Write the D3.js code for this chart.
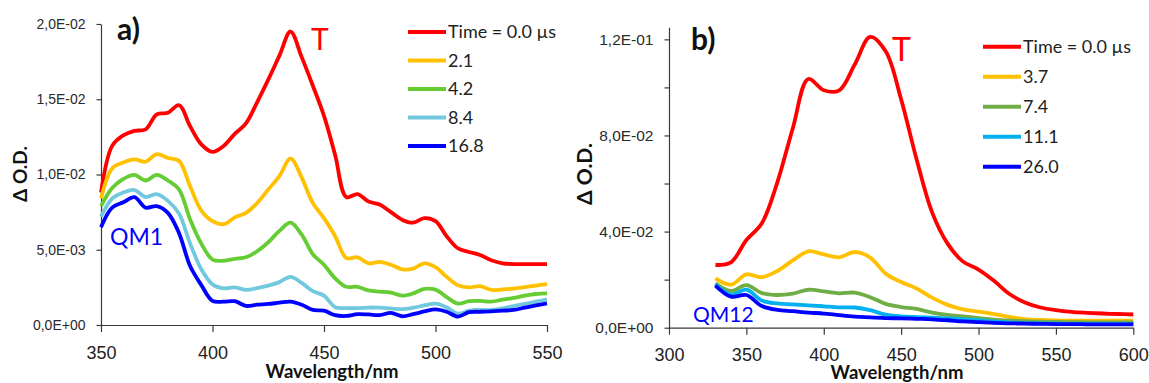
<!DOCTYPE html>
<html>
<head>
<meta charset="utf-8">
<script src="https://cdn.jsdelivr.net/npm/d3@7"></script>
<style>
  body { margin: 0; background: #fff; }
  svg { display: block; font-family: Lato, "Liberation Sans", sans-serif; }
</style>
</head>
<body>
<svg id="chart" width="1149" height="383"></svg>
<script>
// values are Δ O.D. in units of 1e-3

// ---- panel a
const wlA = [350, 355, 360, 365, 370, 375, 380, 385, 390, 395, 400, 405, 410, 415, 420, 425, 430, 435, 440, 445,
  450, 455, 460, 465, 470, 475, 480, 485, 490, 495, 500, 505, 510, 515, 520, 525, 530, 535, 540, 545, 550];
const t0A = [8.8, 11.9, 12.6, 12.9, 13.0, 14.0, 14.1, 14.6, 13.2, 12.0, 11.5, 11.9, 12.7, 13.4, 14.8, 16.3, 17.9, 19.5, 17.8, 15.9,
  13.9, 11.3, 8.5, 8.7, 8.2, 8.0, 7.5, 7.0, 6.8, 7.1, 6.9, 5.9, 5.1, 4.85, 4.65, 4.3, 4.1, 4.05, 4.05, 4.05, 4.05];
const t21A = [8.4, 10.4, 10.8, 11.0, 10.85, 11.35, 11.1, 10.9, 9.2, 7.6, 6.9, 6.7, 7.15, 7.45, 8.1, 9.0, 9.9, 11.05, 9.8, 8.1,
  7.1, 5.9, 4.45, 4.5, 4.1, 4.2, 4.0, 3.7, 3.75, 4.1, 3.85, 3.2, 2.65, 2.5, 2.58, 2.33, 2.36, 2.42, 2.52, 2.62, 2.72];
const t42A = [7.9, 9.1, 9.7, 9.97, 9.6, 9.97, 9.6, 9.0, 7.0, 5.4, 4.35, 4.27, 4.4, 4.5, 4.9, 5.5, 6.25, 6.8, 6.0, 4.7,
  4.0, 3.1, 2.54, 2.54, 2.3, 2.22, 2.15, 1.95, 2.1, 2.4, 2.35, 1.85, 1.42, 1.58, 1.6, 1.55, 1.68, 1.8, 1.95, 2.06, 2.1];
const t84A = [7.2, 8.4, 8.8, 8.97, 8.5, 8.7, 8.25, 7.4, 5.4, 3.7, 2.7, 2.44, 2.5, 2.33, 2.45, 2.62, 2.85, 3.2, 2.8, 2.25,
  1.95, 1.18, 1.12, 1.12, 1.16, 1.15, 1.1, 1.05, 1.15, 1.3, 1.42, 1.18, 0.75, 0.95, 1.0, 1.0, 1.1, 1.25, 1.4, 1.55, 1.7];
const t168A = [6.5, 7.8, 8.15, 8.5, 7.8, 7.9, 7.45, 6.1, 3.9, 2.65, 1.6, 1.55, 1.58, 1.27, 1.35, 1.4, 1.48, 1.55, 1.35, 1.0,
  0.95, 0.65, 0.6, 0.72, 0.7, 0.66, 0.8, 0.58, 0.72, 0.9, 1.04, 0.88, 0.56, 0.85, 0.88, 0.9, 0.95, 1.0, 1.15, 1.3, 1.44];
const namesA = ['Time = 0.0 µs', '2.1', '4.2', '8.4', '16.8'];
const colorsA = ['#ff0000', '#ffc000', '#66cc33', '#72c9df', '#0000ff'];
const xTicksA = [350, 400, 450, 500, 550];
const yTicksA = [0, 5, 10, 15, 20];

// ---- panel b
const wlB = [330, 340, 350, 360, 370, 380, 390, 400, 410, 420, 430, 440, 450, 460,
  470, 480, 490, 500, 510, 520, 530, 540, 550, 560, 570, 580, 590, 600];
const t0B = [26.1, 27.2, 36.5, 43.5, 60.5, 83, 103.5, 98.8, 98.8, 109.5, 121, 115, 95, 70,
  48, 35, 27.5, 24.2, 19.5, 14, 10.5, 8.4, 7.3, 6.6, 6.2, 5.9, 5.7, 5.5];
const t37B = [20.5, 17.9, 22.2, 21, 23.6, 28, 31.8, 30.5, 29.3, 31.5, 29.2, 22.5, 19, 16.3,
  12.5, 9.5, 7.6, 6.7, 5.7, 4.5, 3.6, 3.2, 3.0, 2.9, 2.9, 2.9, 2.9, 2.9];
const t74B = [18.5, 15.3, 17.7, 14.4, 13.6, 14.2, 15.8, 15.1, 14.3, 14.6, 12.7, 9.9, 8.6, 7.8,
  6.3, 5.3, 4.7, 4.0, 3.4, 3.0, 2.7, 2.5, 2.4, 2.3, 2.2, 2.2, 2.2, 2.2];
const t111B = [18.0, 13.8, 15.8, 11.3, 10.1, 9.7, 9.3, 8.9, 8.5, 8.4, 7.3, 5.4, 4.7, 4.4,
  4.2, 3.9, 3.5, 3.1, 2.6, 2.2, 1.9, 1.8, 1.7, 1.6, 1.6, 1.6, 1.6, 1.6];
const t260B = [17.5, 12.9, 13.6, 9.0, 7.4, 6.9, 6.3, 5.9, 5.2, 4.6, 4.3, 4.0, 3.9, 3.7,
  3.5, 3.1, 2.6, 2.3, 2.0, 1.8, 1.7, 1.6, 1.5, 1.5, 1.4, 1.4, 1.4, 1.4];
const namesB = ['Time = 0.0 µs', '3.7', '7.4', '11.1', '26.0'];
const colorsB = ['#ff0000', '#ffc000', '#70ad47', '#00b0f0', '#0000ff'];
const xTicksB = [300, 350, 400, 450, 500, 550, 600];
const yTicksB = [0, 40, 80, 120];
const yMinorB = [20, 60, 100];

const svg = d3.select('#chart');
const axisColor = '#3a3a3a';

function sciLabel(v) {
  const [m, e] = (v * 1e-3).toExponential(1).split('e');
  const n = +e;
  return m.replace('.', ',') + 'E' + (n < 0 ? '-' : '+') + String(Math.abs(n)).padStart(2, '0');
}

function drawPanel(p) {
  const g = svg.append('g');
  const x = d3.scaleLinear().domain(p.xDomain).range([p.left, p.right]);
  const y = d3.scaleLinear().domain([0, p.yMax]).range([p.bottom, p.bottom - p.yMax * p.yScale]);

  // axes
  const xa = g.append('g')
    .attr('transform', `translate(0,${p.bottom})`)
    .call(d3.axisBottom(x).tickValues(p.xTicks).tickSize(7).tickSizeOuter(0).tickPadding(p.xPad));
  xa.selectAll('text').attr('font-size', 18).attr('fill', '#222');

  const ya = g.append('g')
    .attr('transform', `translate(${p.left},0)`)
    .call(d3.axisLeft(y).tickValues(p.yTicks).tickSize(4.5).tickSizeOuter(0).tickPadding(11).tickFormat(sciLabel));
  ya.selectAll('text').attr('font-size', p.yFont).attr('fill', '#2a2a2a');

  if (p.yMinor) {
    g.append('g')
      .attr('transform', `translate(${p.left},0)`)
      .call(d3.axisLeft(y).tickValues(p.yMinor).tickSize(4.5).tickSizeOuter(0).tickFormat(''))
      .select('.domain').remove();
  }
  g.selectAll('.domain, .tick line').attr('stroke', axisColor).attr('stroke-width', 1.2);

  // axis titles
  g.append('text')
    .attr('x', p.xTitleX).attr('y', p.xTitleY)
    .attr('text-anchor', 'middle')
    .attr('font-size', 18.5).attr('font-weight', 'bold').attr('fill', '#111')
    .text('Wavelength/nm');
  g.append('text')
    .attr('transform', `translate(${p.yTitleX},${p.yTitleY}) rotate(-90)`)
    .attr('text-anchor', 'middle')
    .attr('font-size', p.yTitleFont).attr('font-weight', 'bold').attr('fill', '#111')
    .text('Δ O.D.');

  // curves
  const line = d3.line()
    .x((d, i) => x(p.wl[i]))
    .y(d => y(d))
    .curve(d3.curveCatmullRom.alpha(0.5));
  p.series.forEach((s, i) => {
    g.append('path')
      .attr('d', line(s))
      .attr('fill', 'none')
      .attr('stroke', p.colors[i])
      .attr('stroke-width', 3.8)
      .attr('stroke-linejoin', 'round');
  });

  // legend
  p.names.forEach((n, i) => {
    const ly = p.legY + i * p.legStep;
    g.append('line')
      .attr('x1', p.legX).attr('x2', p.legX + 38)
      .attr('y1', ly).attr('y2', ly)
      .attr('stroke', p.colors[i]).attr('stroke-width', 4);
    g.append('text')
      .attr('x', p.legX + 40).attr('y', ly).attr('dy', '0.36em')
      .attr('font-size', 18).attr('fill', '#222')
      .text(n);
  });

  // annotations
  g.append('text').attr('x', p.tagX).attr('y', p.tagY)
    .attr('font-size', 30).attr('font-weight', 'bold').attr('fill', '#111').text(p.tag);
  g.append('text').attr('x', p.tX).attr('y', p.tY)
    .attr('font-size', p.tFont).attr('fill', '#ff0000').text('T');
  g.append('text').attr('x', p.qmX).attr('y', p.qmY)
    .attr('font-size', p.qmFont).attr('fill', '#0000ff').text(p.qm);
}

drawPanel({
  wl: wlA, series: [t0A, t21A, t42A, t84A, t168A], names: namesA, colors: colorsA,
  xDomain: [350, 550], xTicks: xTicksA, yTicks: yTicksA, yMax: 20,
  left: 101, right: 547, bottom: 325, yScale: 15.05, xPad: 14, yFont: 14,
  xTitleX: 332, xTitleY: 378, yTitleX: 27, yTitleY: 174, yTitleFont: 19,
  legX: 408, legY: 32, legStep: 28.5,
  tag: 'a)', tagX: 117, tagY: 40,
  tX: 311, tY: 50, tFont: 30,
  qm: 'QM1', qmX: 110, qmY: 245, qmFont: 23
});

drawPanel({
  wl: wlB, series: [t0B, t37B, t74B, t111B, t260B], names: namesB, colors: colorsB,
  xDomain: [300, 600], xTicks: xTicksB, yTicks: yTicksB, yMinor: yMinorB, yMax: 125,
  left: 669, right: 1133.3, bottom: 327.7, yScale: 2.403, xPad: 14, yFont: 15.5,
  xTitleX: 897, xTitleY: 379, yTitleX: 592, yTitleY: 174, yTitleFont: 21,
  legX: 983, legY: 46.7, legStep: 30,
  tag: 'b)', tagX: 691, tagY: 50,
  tX: 892, tY: 61, tFont: 32,
  qm: 'QM12', qmX: 693, qmY: 322, qmFont: 21
});
</script>
</body>
</html>
